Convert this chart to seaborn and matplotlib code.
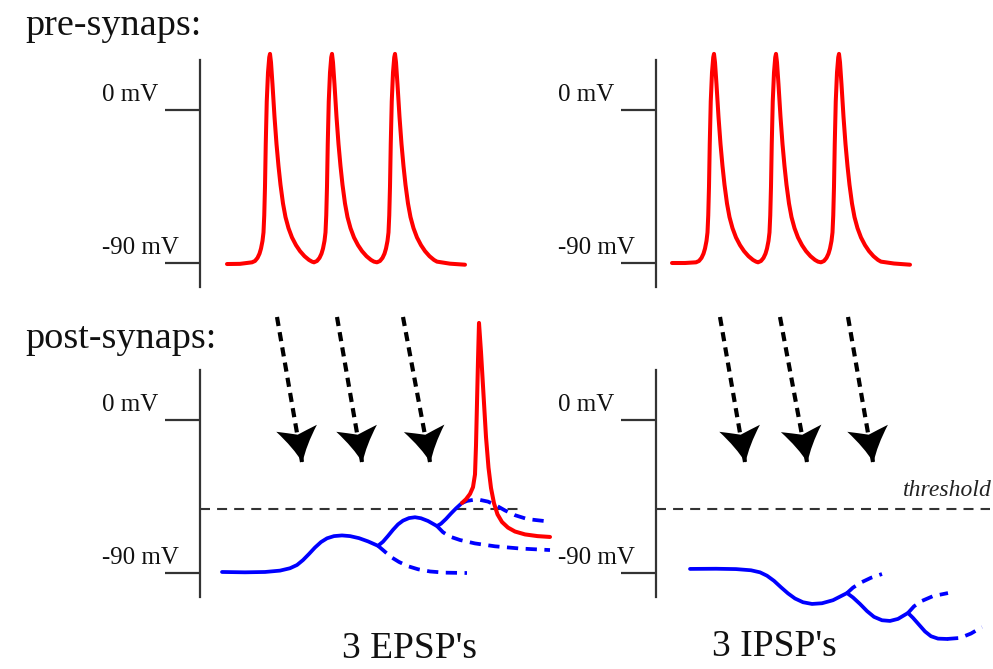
import numpy as np
import matplotlib
matplotlib.use("Agg")
import matplotlib.pyplot as plt
from matplotlib.path import Path
from matplotlib.markers import MarkerStyle
from matplotlib.transforms import Affine2D
import seaborn as sns

# ---- data (time in ms, membrane potential in mV) ----
# one presynaptic action potential, time relative to its peak
spike_dt = [-3.6, -3.0, -2.5, -2.1, -1.8, -1.5, -1.3, -1.15, -1.0, -0.85, -0.65, -0.4, -0.15, 0.0,
            0.2, 0.5, 0.9, 1.3, 1.7, 2.1, 2.6, 3.1, 3.7, 4.4, 5.2, 6.0, 6.9, 7.8, 8.4]
spike_mv = [-89.6, -88.8, -87.0, -84.5, -81.5, -77, -72, -62, -45, -20, 5, 22, 31, 33,
            28, 15, -4, -20, -33, -44, -55, -63, -69.5, -75, -79.5, -83, -86, -88.2, -89.2]
pre_left_peaks = [14.0, 26.4, 39.0]
pre_right_peaks = [11.6, 24.0, 36.6]
pre_left_ends = ([5.4, 8.0], [-90.6, -90.5], [50.0, 53.0], [-90.4, -91.0])
pre_right_ends = ([3.2, 5.8], [-90.0, -90.0], [47.6, 50.8], [-90.3, -91.0])

# postsynaptic: 3 EPSPs summing to threshold
epsp_t = [4.4, 9, 13, 16, 18, 19.4, 20.6, 21.8, 23, 24.2, 25.4, 26.8, 28.4, 30, 31.8, 33.6, 35.6,
          36.6, 37.6, 38.6, 39.6, 40.6, 41.8, 43, 44.2, 45.6, 47.4,
          48.2, 49.2, 50.2, 51.2, 52.4]
epsp_mv = [-89.4, -89.6, -89.4, -88.6, -87.2, -85.3, -82.4, -78.8, -75, -71.8, -69.6, -68.3, -67.9,
           -68.3, -69.5, -71.4, -74,
           -71.6, -68.2, -64.6, -61.4, -59.2, -57.7, -57.2, -57.8, -59.4, -62.4,
           -61, -58.2, -55, -52, -48.8]
epsp_decay1_t = [35.6, 36.8, 38.2, 39.8, 41.6, 43.6, 46, 49, 53.4]
epsp_decay1_mv = [-74, -77, -80.6, -83.5, -86, -87.8, -89.1, -89.8, -90]
epsp_decay2_t = [47.4, 48.6, 50, 52, 55, 59, 64, 70]
epsp_decay2_mv = [-62.4, -66, -68.6, -70.6, -72.6, -74.3, -75.6, -76.5]
epsp_decay3_t = [52.4, 53.4, 54.6, 56, 57.6, 59.2, 61, 63, 65.5, 69.4]
epsp_decay3_mv = [-48.8, -47.6, -47, -47, -48, -50.2, -53.2, -56, -58.3, -59.6]
post_ap_t = [52.4, 53.2, 54.0, 54.6, 55.0, 55.2, 55.4, 55.6, 55.8, 56.2, 56.7, 57.2, 57.7, 58.2,
             58.8, 59.5, 60.4, 61.6, 63.0, 65.0, 67.5, 70.0]
post_ap_mv = [-48.8, -46.6, -43.5, -39.5, -32, -15, 10, 35, 57.1, 40, 15, -10, -28, -40,
              -49, -55.5, -60, -63.3, -65.6, -67.3, -68.3, -68.8]

# postsynaptic: 3 IPSPs
ipsp_t = [6.8, 12, 16, 19, 20.8, 22.2, 23.6, 25, 26.4, 27.8, 29.4, 31.2, 33.2, 35.4, 38.2,
          39.4, 40.8, 42.2, 43.6, 45.2, 46.8, 48.4, 50.4,
          51.4, 52.6, 53.8, 55, 56.4, 58.2]
ipsp_mv = [-87.6, -87.5, -87.7, -88.4, -89.6, -91.6, -94.6, -98.4, -102, -105, -107.2, -108.2,
           -107.8, -106, -101.8,
           -104.4, -108.2, -112.4, -115.8, -117.8, -118.2, -117, -113.5,
           -116.4, -120.4, -124.4, -127.2, -128.6, -128.8]
ipsp_decay1_t = [38.2, 39.4, 41.0, 43.0, 45.2]
ipsp_decay1_mv = [-101.8, -98.6, -95.6, -92.8, -90.6]
ipsp_decay2_t = [50.4, 51.6, 53.2, 55.4, 58.4]
ipsp_decay2_mv = [-113.5, -109.6, -106.4, -103.6, -101.8]
ipsp_decay3_t = [58.2, 60.8, 63.0, 65.2]
ipsp_decay3_mv = [-128.8, -128.2, -125.6, -121.8]

threshold_mv = -52.4
threshold_left_end = 63.6
threshold_right_end = 66.8

arrow_left_start = [15.4, 27.4, 40.6]
arrow_left_tip = [20.4, 32.4, 46.0]
arrow_right_start = [12.8, 24.8, 38.4]
arrow_right_tip = [17.8, 30.2, 43.4]
arrow_start_mv = 60.6
arrow_tip_mv = -24.7

tick_mv = [0, -90]
tick_labels = ["0 mV", "-90 mV"]

# ---- figure ----
sns.set_theme(style="white")
plt.rcParams["font.family"] = ["Liberation Serif", "DejaVu Serif"]

W, H = 993, 669
PX_MS = 5.0
PX_MV = 1.7
AX_COL = "#333333"
RED = "#ff0000"
BLUE = "#0000ff"

fig = plt.figure(figsize=(W / 100, H / 100), dpi=100)


def panel(spine_px, zero_px, top_px, bot_px, width_px):
    ax = fig.add_axes([spine_px / W, 1 - bot_px / H, width_px / W, (bot_px - top_px) / H])
    ax.set_facecolor("none")
    ax.set_xlim(0, width_px / PX_MS)
    ax.set_ylim((zero_px - bot_px) / PX_MV, (zero_px - top_px) / PX_MV)
    for s in ["top", "right", "bottom"]:
        ax.spines[s].set_visible(False)
    ax.spines["left"].set_color(AX_COL)
    ax.spines["left"].set_linewidth(1.6)
    ax.spines["left"].set_bounds(-104, 29.4)
    ax.set_xticks([])
    ax.set_yticks(tick_mv)
    ax.set_yticklabels([])
    ax.tick_params(axis="y", length=25, width=1.6, color=AX_COL, direction="out", left=True)
    for v, lab in zip(tick_mv, tick_labels):
        ax.annotate(lab, xy=(0, v), xytext=(-70.5, 10.5), textcoords="offset points",
                    ha="left", va="center", fontsize=18, color="#111111")
    return ax


def trace(ax, t, mv, color, lw=2.8, dashed=False):
    if dashed:
        kw = dict(linestyle=(0, (3.0, 2.0)), dash_capstyle="butt")
    else:
        kw = dict(solid_joinstyle="round", solid_capstyle="round")
    sns.lineplot(x=t, y=mv, ax=ax, color=color, linewidth=lw, sort=False,
                 estimator=None, clip_on=False, **kw)


def spikes(ax, peaks, ends):
    t0, m0, t1, m1 = ends
    t = list(t0)
    mv = list(m0)
    for p in peaks:
        t += [p + d for d in spike_dt]
        mv += spike_mv
    trace(ax, t + t1, mv + m1, RED, lw=2.9)


head_path = Path(
    [(0, 0), (-6, 15), (-19, 32), (-9, 29), (0, 26), (9, 29), (19, 32), (6, 15), (0, 0), (0, 0)],
    [Path.MOVETO, Path.CURVE3, Path.CURVE3, Path.CURVE3, Path.CURVE3,
     Path.CURVE3, Path.CURVE3, Path.CURVE3, Path.CURVE3, Path.CLOSEPOLY])


def arrows(ax, starts, tips):
    for s, e in zip(starts, tips):
        ax.plot([s, e], [arrow_start_mv, arrow_tip_mv], color="black", lw=3.0,
                linestyle=(0, (2.2, 1.5)), clip_on=False, zorder=3)
        p0 = ax.transData.transform((s, arrow_start_mv))
        p1 = ax.transData.transform((e, arrow_tip_mv))
        ang = np.degrees(np.arctan2(p1[1] - p0[1], p1[0] - p0[0])) + 90
        m = MarkerStyle(head_path, transform=Affine2D().rotate_deg(ang))
        ax.plot([e], [arrow_tip_mv], marker=m, markersize=50, color="black",
                markeredgewidth=0, linestyle="none", clip_on=False, zorder=4)


# top panels: presynaptic spikes
ax1 = panel(200, 110, 40, 300, 400)
spikes(ax1, pre_left_peaks, pre_left_ends)
ax2 = panel(656, 110, 40, 300, 337)
spikes(ax2, pre_right_peaks, pre_right_ends)

# bottom-left: EPSPs
ax3 = panel(200, 420, 300, 669, 400)
ax3.plot([0, threshold_left_end], [threshold_mv, threshold_mv], color=AX_COL, lw=1.5,
         linestyle=(0, (4.8, 3.4)), zorder=1)
trace(ax3, epsp_t, epsp_mv, BLUE, lw=2.7)
trace(ax3, epsp_decay1_t, epsp_decay1_mv, BLUE, lw=2.7, dashed=True)
trace(ax3, epsp_decay2_t, epsp_decay2_mv, BLUE, lw=2.7, dashed=True)
trace(ax3, epsp_decay3_t, epsp_decay3_mv, BLUE, lw=2.7, dashed=True)
trace(ax3, post_ap_t, post_ap_mv, RED, lw=2.9)
arrows(ax3, arrow_left_start, arrow_left_tip)

# bottom-right: IPSPs
ax4 = panel(656, 420, 300, 669, 337)
ax4.plot([0, threshold_right_end], [threshold_mv, threshold_mv], color=AX_COL, lw=1.5,
         linestyle=(0, (4.8, 3.4)), zorder=1, clip_on=False)
trace(ax4, ipsp_t, ipsp_mv, BLUE, lw=2.7)
trace(ax4, ipsp_decay1_t, ipsp_decay1_mv, BLUE, lw=2.7, dashed=True)
trace(ax4, ipsp_decay2_t, ipsp_decay2_mv, BLUE, lw=2.7, dashed=True)
trace(ax4, ipsp_decay3_t, ipsp_decay3_mv, BLUE, lw=2.7, dashed=True)
arrows(ax4, arrow_right_start, arrow_right_tip)
ax4.annotate("threshold", xy=(threshold_right_end, threshold_mv), xytext=(1, 6),
             textcoords="offset points", ha="right", va="bottom", fontsize=17,
             style="italic", color="#222222")

# labels
fig.text(25 / W, 1 - 35 / H, "pre-synaps:", fontsize=27.5, ha="left", va="baseline", color="#111111")
fig.text(25 / W, 1 - 348 / H, "post-synaps:", fontsize=27.5, ha="left", va="baseline", color="#111111")
fig.text(409 / W, 1 - 658 / H, "3 EPSP's", fontsize=27, ha="center", va="baseline", color="#111111")
fig.text(774 / W, 1 - 656 / H, "3 IPSP's", fontsize=27, ha="center", va="baseline", color="#111111")

fig.savefig("out.png", dpi=100)
